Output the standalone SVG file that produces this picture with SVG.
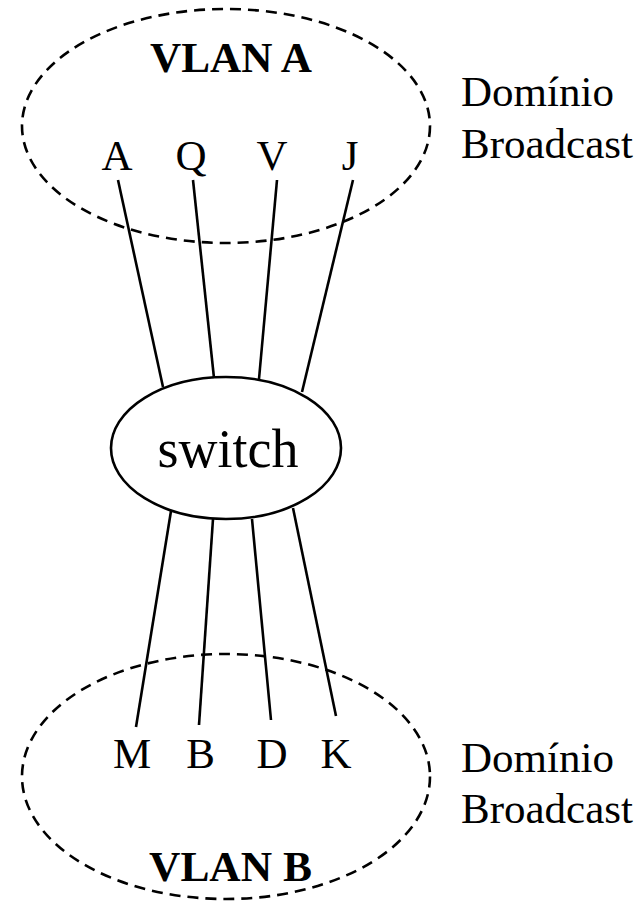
<svg xmlns="http://www.w3.org/2000/svg" width="643" height="901" viewBox="0 0 643 901">
<style>
.t{font-family:"Liberation Serif","Times New Roman",serif;font-size:43px;fill:#000}
.b{font-family:"Liberation Serif","Times New Roman",serif;font-size:43px;font-weight:bold;fill:#000}
.dash{fill:none;stroke:#000;stroke-width:2.6;stroke-dasharray:11 7}
.ln{stroke:#000;stroke-width:2.6;fill:none}
</style>
<rect width="643" height="901" fill="#fff"/>
<g id="vlanA">
<ellipse class="dash" cx="226" cy="126" rx="204" ry="117"/>
<text class="b" x="231" y="72" text-anchor="middle" textLength="162" lengthAdjust="spacingAndGlyphs">VLAN A</text>
</g>
<g id="domA">
<text class="t" x="461" y="106">Domínio</text>
<text class="t" x="461" y="158">Broadcast</text>
</g>
<g id="nA"><text class="t" x="117" y="170" text-anchor="middle">A</text></g>
<g id="nQ"><text class="t" x="191" y="170" text-anchor="middle">Q</text></g>
<g id="nV"><text class="t" x="272" y="170" text-anchor="middle">V</text></g>
<g id="nJ"><text class="t" x="350" y="170" text-anchor="middle">J</text></g>
<g id="switch">
<ellipse class="ln" cx="226" cy="448" rx="115" ry="71"/>
<text class="t" x="228" y="467" text-anchor="middle" style="font-size:54px">switch</text>
</g>
<g id="nM"><text class="t" x="132" y="768" text-anchor="middle">M</text></g>
<g id="nB"><text class="t" x="200.5" y="768" text-anchor="middle">B</text></g>
<g id="nD"><text class="t" x="272" y="768" text-anchor="middle">D</text></g>
<g id="nK"><text class="t" x="336" y="768" text-anchor="middle">K</text></g>
<g id="vlanB">
<ellipse class="dash" cx="226" cy="776.5" rx="204" ry="122.5"/>
<text class="b" x="230.5" y="881" text-anchor="middle" textLength="163" lengthAdjust="spacingAndGlyphs">VLAN B</text>
</g>
<g id="domB">
<text class="t" x="461" y="772">Domínio</text>
<text class="t" x="461" y="823">Broadcast</text>
</g>
<g id="connectors">
<line class="ln" x1="118" y1="180" x2="163" y2="387"/>
<line class="ln" x1="193" y1="180" x2="214" y2="378"/>
<line class="ln" x1="277" y1="180" x2="259" y2="379"/>
<line class="ln" x1="353" y1="180" x2="302" y2="392"/>
<line class="ln" x1="171" y1="511" x2="136" y2="727"/>
<line class="ln" x1="213" y1="519" x2="199" y2="725"/>
<line class="ln" x1="252" y1="519" x2="271" y2="720"/>
<line class="ln" x1="293" y1="508" x2="336" y2="716"/>
</g>
</svg>
